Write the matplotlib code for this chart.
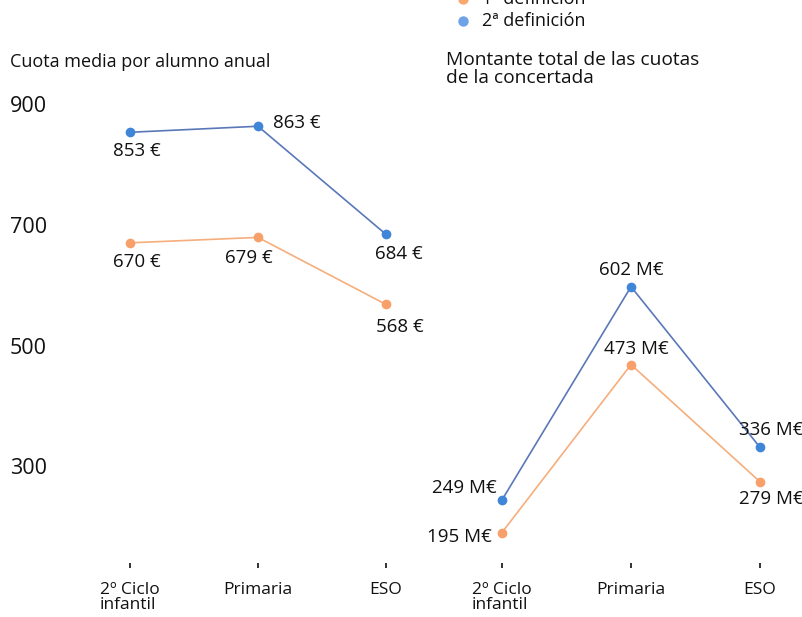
import matplotlib.pyplot as plt
from matplotlib.lines import Line2D

plt.rcParams['font.family'] = ['Open Sans', 'DejaVu Sans']

# Datos
categorias = ["2º Ciclo\ninfantil", "Primaria", "ESO"]
series = ["1ª definición", "2ª definición"]
cuota_1 = [670, 679, 568]
cuota_2 = [853, 863, 684]
total_1 = [195, 473, 279]
total_2 = [249, 602, 336]
yticks = [300, 500, 700, 900]

c_naranja = "#f7a06a"
c_naranja_linea = "#f5ae7c"
c_azul = "#3f86d8"
c_azul_linea = "#5a78b8"
c_texto = "#111111"

W, H = 803, 617
fig = plt.figure(figsize=(W / 100, H / 100), dpi=100)

def px(x0, y0, x1, y1):
    # caja en pixeles (y desde arriba) a coordenadas de figura
    return [x0 / W, 1 - y1 / H, (x1 - x0) / W, (y1 - y0) / H]

ax1 = fig.add_axes(px(66, 90, 450, 563))
ax2 = fig.add_axes(px(437.5, 90, 798.7, 563))
ax1.set_xlim(-0.5, 2.5)
ax2.set_xlim(-0.5, 2.3)
ax1.set_ylim(140, 923)
ax2.set_ylim(144.5, 927.7)

x = range(len(categorias))
for ax, d1, d2 in [(ax1, cuota_1, cuota_2), (ax2, total_1, total_2)]:
    ax.plot(x, d1, color=c_naranja_linea, lw=1.2, zorder=2)
    ax.plot(x, d1, "o", color=c_naranja, ms=7, mec="none", zorder=3)
    ax.plot(x, d2, color=c_azul_linea, lw=1.2, zorder=2)
    ax.plot(x, d2, "o", color=c_azul, ms=7, mec="none", zorder=3)
    ax.set_xticks(list(x))
    ax.set_xticklabels(categorias, fontsize=12.5, color=c_texto, linespacing=0.95)
    ax.tick_params(axis="x", length=3.6, width=1.4, color="#333333", pad=10)
    for s in ax.spines.values():
        s.set_visible(False)
    ax.patch.set_visible(False)

for lab in ax1.get_xticklabels() + ax2.get_xticklabels():
    lab.set_multialignment("left")

ax1.set_yticks(yticks)
ax1.set_yticklabels([str(v) for v in yticks], fontsize=15.5, color=c_texto, ha="left")
ax1.tick_params(axis="y", length=0, pad=40.3)
ax2.set_yticks([])

# Etiquetas de valores (desplazamientos en pixeles)
def etiqueta(ax, xi, v, texto, dx, dy, ha="center"):
    ax.annotate(texto, (xi, v), xytext=(dx * 0.72, dy * 0.72), textcoords="offset points",
                ha=ha, va="center", fontsize=13.5, color=c_texto, zorder=4)

off_c1 = [(7, -19), (-9, -21), (14, -23)]
off_c2 = [(7, -19), (15, 3), (13, -20)]
for i in x:
    etiqueta(ax1, i, cuota_1[i], f"{cuota_1[i]} €", *off_c1[i])
    ha = "left" if i == 1 else "center"
    etiqueta(ax1, i, cuota_2[i], f"{cuota_2[i]} €", *off_c2[i], ha=ha)

off_t1 = [(-10, -4, "right"), (5, 16, "center"), (11, -17, "center")]
off_t2 = [(-5, 12, "right"), (0, 17, "center"), (11, 17, "center")]
for i in x:
    dx, dy, ha = off_t1[i]
    etiqueta(ax2, i, total_1[i], f"{total_1[i]} M€", dx, dy, ha=ha)
    dx, dy, ha = off_t2[i]
    etiqueta(ax2, i, total_2[i], f"{total_2[i]} M€", dx, dy, ha=ha)

# Titulos
fig.text(10 / W, 1 - 62 / H, "Cuota media por alumno anual", fontsize=13,
         color=c_texto, va="center")
fig.text(446 / W, 1 - 69 / H, "Montante total de las cuotas\nde la concertada",
         fontsize=13.8, color=c_texto, va="center", linespacing=0.95)

# Leyenda (cortada arriba como en el original)
for i, (nombre, col) in enumerate(zip(series, ["#f9a870", "#6fa3e8"])):
    y = 1 - (-1 + 22 * i) / H
    fig.add_artist(Line2D([463 / W], [y], marker="o", color=col, ms=7.5, mec="none",
                          transform=fig.transFigure))
    fig.text(482 / W, y, nombre, fontsize=13, color=c_texto, va="center")

plt.savefig("out.png", dpi=100)
plt.close()
